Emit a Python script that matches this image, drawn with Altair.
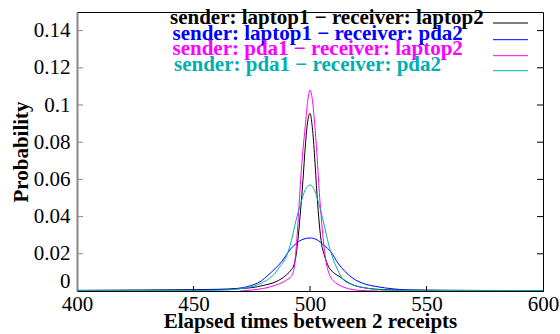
import altair as alt
import pandas as pd

# ---- data ----
series_names = [
    "sender: laptop1 \u2212 receiver: laptop2",
    "sender: laptop1 \u2212 receiver: pda2",
    "sender: pda1 \u2212 receiver: laptop2",
    "sender: pda1 \u2212 receiver: pda2",
]
series_colors = ["#000000", "#0000ff", "#ff00ff", "#00b0b0"]

black_x = [400, 430, 450, 460, 470, 475, 480, 485, 488, 490, 492, 493, 494, 495, 496, 497, 498, 499, 500,
           501, 502, 503, 504, 505, 506, 507, 508, 510, 513, 516, 519, 522, 528, 535, 550, 600]
black_y = [0.0003, 0.0005, 0.0007, 0.0009, 0.0013, 0.0018, 0.0030, 0.0048, 0.0068, 0.0088, 0.0115, 0.0135,
           0.0190, 0.0300, 0.0440, 0.0600, 0.0780, 0.0910, 0.0955, 0.0880, 0.0720, 0.0520, 0.0360, 0.0250,
           0.0200, 0.0160, 0.0130, 0.0100, 0.0075, 0.0048, 0.0030, 0.0020, 0.0010, 0.0006, 0.0004, 0.0002]

blue_x = [400, 440, 450, 460, 465, 470, 473, 476, 479, 482, 485, 488, 491, 494, 497, 500, 503, 506, 509,
          512, 515, 518, 521, 524, 528, 532, 536, 543, 560, 600]
blue_y = [0.0003, 0.0004, 0.0005, 0.0007, 0.0009, 0.0016, 0.0023, 0.0035, 0.0053, 0.0085, 0.0120, 0.0160,
          0.0215, 0.0255, 0.0278, 0.0285, 0.0275, 0.0245, 0.0210, 0.0150, 0.0105, 0.0072, 0.0050, 0.0036,
          0.0025, 0.0017, 0.0011, 0.0005, 0.0003, 0.0002]

magenta_x = [470, 475, 480, 485, 488, 490, 492, 493, 494, 495, 496, 497, 498, 499, 500, 501, 502, 503, 504,
             505, 506, 507, 508, 509, 510, 512, 515, 518, 522, 529]
magenta_y = [0.0, 0.0005, 0.0014, 0.0030, 0.0045, 0.0060, 0.0080, 0.0110, 0.0220, 0.0400, 0.0600, 0.0760,
             0.0890, 0.1020, 0.1080, 0.1030, 0.0900, 0.0730, 0.0530, 0.0370, 0.0240, 0.0150, 0.0100, 0.0070,
             0.0055, 0.0035, 0.0018, 0.0008, 0.0003, 0.0]

cyan_x = [400, 450, 460, 465, 470, 475, 478, 481, 484, 487, 490, 492, 494, 496, 498, 500, 502, 504, 506,
          508, 510, 512, 514, 517, 521, 526, 531, 540, 600]
cyan_y = [0.0002, 0.0003, 0.0004, 0.0006, 0.0012, 0.0024, 0.0036, 0.0055, 0.0082, 0.0130, 0.0190, 0.0270,
          0.0380, 0.0470, 0.0545, 0.0570, 0.0540, 0.0460, 0.0360, 0.0250, 0.0170, 0.0110, 0.0065, 0.0040,
          0.0024, 0.0012, 0.0005, 0.0003, 0.0002]

x_ticks = [400, 450, 500, 550, 600]
y_ticks = [0, 0.02, 0.04, 0.06, 0.08, 0.1, 0.12, 0.14]

# ---- build table ----
rows = []
for order, (name, xs, ys) in enumerate(zip(series_names,
                                           [black_x, blue_x, magenta_x, cyan_x],
                                           [black_y, blue_y, magenta_y, cyan_y])):
    for xv, yv in zip(xs, ys):
        rows.append({"series": name, "order": order, "t": xv, "p": yv})
df = pd.DataFrame(rows)

W, H = 466, 279
FONT = "Liberation Serif"

xscale = alt.Scale(domain=[400, 600], nice=False, zero=False)
yscale = alt.Scale(domain=[0, 0.15], nice=False)
cscale = alt.Scale(domain=series_names, range=series_colors)

x_axis = alt.Axis(
    title="Elapsed times between 2 receipts", values=x_ticks, tickSize=0, labelPadding=2,
    labelFlush=False, labelOverlap=False, grid=False, domainColor="#000000", domainWidth=1,
    labelFont=FONT, labelFontSize=21, labelColor="#000000",
    titleFont=FONT, titleFontSize=21, titleFontWeight="bold", titleColor="#000000", titlePadding=-4)
y_axis = alt.Axis(
    title="Probability", values=y_ticks, format="~g", tickSize=0, labelPadding=7,
    labelFlush=True, labelOverlap=False, grid=False, domainColor="#888888", domainWidth=2,
    labelFont=FONT, labelFontSize=21, labelColor="#000000",
    titleFont=FONT, titleFontSize=21, titleFontWeight="bold", titleColor="#000000", titlePadding=2)

lines = alt.Chart(df).mark_line(strokeWidth=1, interpolate="monotone", clip=True).encode(
    x=alt.X("t:Q", scale=xscale, axis=x_axis),
    y=alt.Y("p:Q", scale=yscale, axis=y_axis),
    color=alt.Color("series:N", scale=cscale, legend=None),
    detail="series:N",
    order="order:Q",
)

tick_df_x = pd.DataFrame({"t": x_ticks[1:-1]})
tick_df_y = pd.DataFrame({"p": y_ticks[1:]})

xticks = alt.Chart(tick_df_x).mark_rule(color="#000000", strokeWidth=1).encode(
    x=alt.X("t:Q", scale=xscale, axis=x_axis), y=alt.value(H), y2=alt.value(H - 5))
yticks_l = alt.Chart(tick_df_y).mark_rule(color="#888888", strokeWidth=1).encode(
    y=alt.Y("p:Q", scale=yscale, axis=y_axis), x=alt.value(0), x2=alt.value(6))
yticks_r = alt.Chart(tick_df_y).mark_rule(color="#000000", strokeWidth=1).encode(
    y=alt.Y("p:Q", scale=yscale, axis=y_axis), x=alt.value(W), x2=alt.value(W - 6))

# manual gnuplot-style key
key_text_x = [93, 95.5, 95.5, 97]
key_text_y = [12, 27.7, 42.7, 59]
key_line_y = [11, 27.7, 43.7, 58.7]
key_layers = []
for name, col, tx, ty, ly in zip(series_names, series_colors, key_text_x, key_text_y, key_line_y):
    kd = pd.DataFrame({"label": [name]})
    key_layers.append(alt.Chart(kd).mark_text(
        align="left", baseline="alphabetic", font=FONT, fontSize=21, fontWeight="bold", color=col
    ).encode(text="label:N", x=alt.value(tx), y=alt.value(ty)))
    key_layers.append(alt.Chart(kd).mark_rule(color=col, strokeWidth=1).encode(
        x=alt.value(416), x2=alt.value(451), y=alt.value(ly)))

chart = alt.layer(lines, xticks, yticks_l, yticks_r, *key_layers).properties(
    width=W, height=H,
    autosize=alt.AutoSizeParams(type="none"),
    padding={"left": 77, "top": 12, "right": 17, "bottom": 43},
    background="#ffffff",
).configure_view(stroke="#000000", strokeWidth=1)

chart.save("out.html", embed_options={"renderer": "svg", "actions": False})
